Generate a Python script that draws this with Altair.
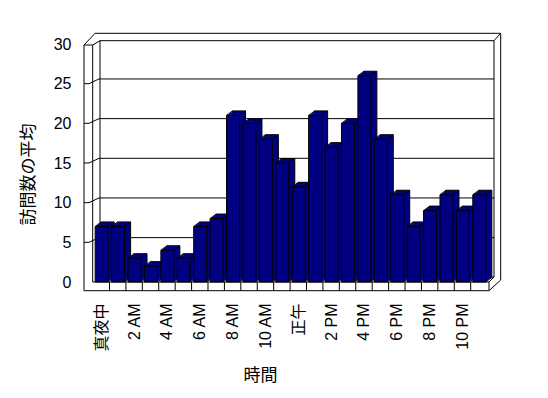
import altair as alt
import pandas as pd

# ---- data ----
hours = ["真夜中", "1 AM", "2 AM", "3 AM", "4 AM", "5 AM", "6 AM", "7 AM", "8 AM", "9 AM",
         "10 AM", "11 AM", "正午", "1 PM", "2 PM", "3 PM", "4 PM", "5 PM", "6 PM", "7 PM",
         "8 PM", "9 PM", "10 PM", "11 PM"]
visits = [7, 7, 3, 2, 4, 3, 7, 8, 21, 20, 18, 15, 12, 21, 17, 20, 26, 18, 11, 7, 9, 11, 9, 11]
y_ticks = [0, 5, 10, 15, 20, 25, 30]
label_hours = hours[::2]

# ---- layout ----
W, H = 397, 238
X0, Y0 = 92, 44
PI, PO = 0.208, 0.194
N = len(hours)
STEP = W / (N - PI + 2 * PO)
BW = STEP * (1 - PI)
DX, DY = 6, -4.5
BACK_DY = -4.7
NAVY = "#000080"
FONT = "Liberation Sans, Noto Sans CJK JP"
CJK = "Noto Sans CJK JP"

df = pd.DataFrame({"hour": hours, "visits": visits})
df["zero"] = 0
tick_df = pd.DataFrame({"tick": y_ticks[1:-1]})

xs = alt.Scale(domain=hours, paddingInner=PI, paddingOuter=PO)
ys = alt.Scale(domain=[0, 30], nice=False, zero=True)

x_axis = alt.Axis(values=label_hours, labelAngle=270, labelFont=FONT, labelFontSize=16,
                  labelColor="black", labelPadding=21, labelOverlap=False, ticks=False,
                  domain=False, grid=False, title="時間", titleFont=CJK, titleFontSize=17,
                  titleFontWeight="normal", titleColor="black", titleX=168, titleY=93,
                  titleBaseline="middle")
y_axis = alt.Axis(values=y_ticks, labelFont=FONT, labelFontSize=16, labelColor="black",
                  labelPadding=21, ticks=False, domain=False, grid=False,
                  title="訪問数の平均", titleFont=CJK, titleFontSize=17, titleFontWeight="normal",
                  titleColor="black", titleAngle=270, titleX=-64, titleY=130,
                  titleAlign="center", titleBaseline="middle")


def xenc():
    return alt.X("hour:N", sort=hours, scale=xs, axis=x_axis)


def yf(field):
    return alt.Y(f"{field}:Q", scale=ys, axis=y_axis)


base = alt.Chart(df)


def seg(x1, y1, x2, y2):
    # decorative frame segment, absolute page pixels -> plot coords
    return alt.Chart(df.head(1)).mark_rule(color="black", strokeWidth=1).encode(
        x=alt.value(x1 - X0), x2=alt.value(x2 - X0),
        y=alt.value(y1 - Y0), y2=alt.value(y2 - Y0))


frame = [
    # left wall
    seg(84, 45, 84, 290.7), seg(92.7, 45, 92.7, 282), seg(84, 45, 92.7, 45),
    seg(84, 45, 95, 33.3), seg(92.7, 45, 100, 40.7),
    # back wall
    seg(95, 33.3, 500.7, 33.3), seg(100, 40.7, 494, 40.7),
    seg(100, 40.7, 100, 277), seg(494, 40.7, 494, 277),
    seg(500.7, 33.3, 500.7, 280), seg(494, 40.7, 500.7, 33.3),
    seg(100, 277, 494, 277), seg(489, 282, 494, 277),
]

ticks_front = alt.Chart(tick_df).mark_rule(color="black").encode(
    y=yf("tick"), x=alt.value(84 - X0), x2=alt.value(89 - X0))
ticks_diag = alt.Chart(tick_df).mark_rule(color="black", y2Offset=BACK_DY).encode(
    y=yf("tick"), y2=alt.Y2("tick:Q"),
    x=alt.value(89 - X0), x2=alt.value(99 - X0))
grid_back = alt.Chart(tick_df).mark_rule(color="black", yOffset=BACK_DY).encode(
    y=yf("tick"), x=alt.value(99 - X0), x2=alt.value(494 - X0))

# 3D bar pieces
back = base.mark_bar(fill=NAVY, stroke="black", strokeWidth=1,
                     xOffset=DX, x2Offset=DX, yOffset=DY, y2Offset=DY).encode(x=xenc(), y=yf("visits"))
fills = [
    base.mark_bar(fill=NAVY, strokeWidth=0,
                  xOffset=DX * k / 6, x2Offset=DX * k / 6,
                  yOffset=DY * k / 6, y2Offset=DY * k / 6).encode(x=xenc(), y=yf("visits"))
    for k in range(1, 6)
]
diag_tl = base.mark_rule(color="black", xOffset=-BW / 2, x2Offset=-BW / 2 + DX, y2Offset=DY).encode(
    x=xenc(), x2=alt.X2("hour:N"), y=yf("visits"), y2=alt.Y2("visits:Q"))
diag_tr = base.mark_rule(color="black", xOffset=BW / 2, x2Offset=BW / 2 + DX, y2Offset=DY).encode(
    x=xenc(), x2=alt.X2("hour:N"), y=yf("visits"), y2=alt.Y2("visits:Q"))
diag_br = base.mark_rule(color="black", xOffset=BW / 2, x2Offset=BW / 2 + DX, y2Offset=DY).encode(
    x=xenc(), x2=alt.X2("hour:N"), y=yf("zero"), y2=alt.Y2("zero:Q"))

front = base.mark_bar(fill=NAVY, stroke="black", strokeWidth=1).encode(
    x=xenc(), y=yf("visits"))

div_df = df.iloc[:-1]
dividers = alt.Chart(div_df).mark_rule(color="black", xOffset=BW / 2 + 1.3).encode(
    x=xenc(), y=alt.value(282 - Y0), y2=alt.value(290.7 - Y0))

floor = [
    seg(92.7, 282, 489, 282), seg(84, 290.7, 489, 290.7),
    seg(489, 282, 489, 290.7), seg(489, 290.7, 500.7, 280),
]

layers = frame + [ticks_front, ticks_diag, grid_back, back] + fills + \
    [diag_tl, diag_tr, diag_br, front, dividers] + floor

chart = alt.layer(*layers).properties(
    width=W, height=H,
    padding={"left": X0, "top": Y0, "right": 548 - X0 - W, "bottom": 398 - Y0 - H},
    autosize=alt.AutoSizeParams(type="none"),
    background="white",
).configure_view(stroke=None)

chart.save("out.html", embed_options={"renderer": "svg", "actions": False})
